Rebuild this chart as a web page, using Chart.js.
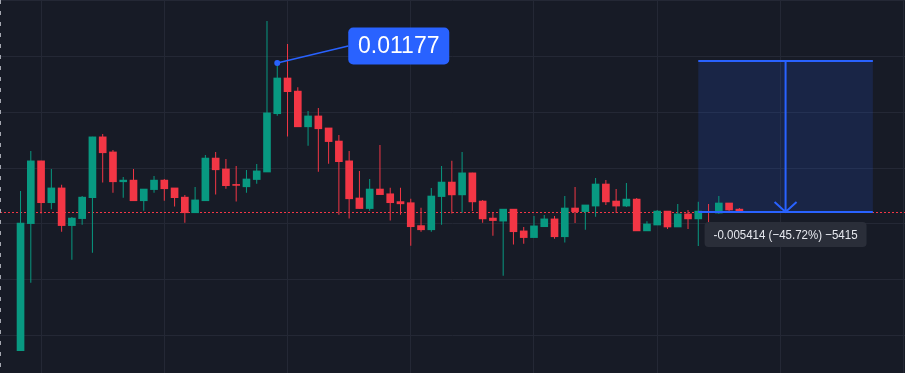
<!DOCTYPE html>
<html>
<head>
<meta charset="utf-8">
<script src="https://cdn.jsdelivr.net/npm/chart.js@4.4.1/dist/chart.umd.min.js"></script>
<style>
    html, body { margin: 0; padding: 0; background: #171b26; overflow: hidden; }
    #wrap { position: relative; width: 905px; height: 373px; }
</style>
</head>
<body>
<div id="wrap"><canvas id="candles"></canvas></div>
<script>
/* ---------- Donnees OHLC ---------- */
const OPEN = [
    0.00146, 0.00601, 0.00826, 0.00676, 0.00729, 0.00594, 0.00619, 0.00694, 0.00912, 0.00858,
    0.00751, 0.00757, 0.00683, 0.00723, 0.00757, 0.00729, 0.00696, 0.00640, 0.00683, 0.00836,
    0.00797, 0.00741, 0.00733, 0.00759, 0.00786, 0.00995, 0.01123, 0.01076, 0.00948, 0.00987,
    0.00944, 0.00897, 0.00826, 0.00693, 0.00655, 0.00725, 0.00708, 0.00680, 0.00676, 0.00594,
    0.00579, 0.00698, 0.00750, 0.00704, 0.00783, 0.00682, 0.00621, 0.00610, 0.00653, 0.00575,
    0.00551, 0.00590, 0.00618, 0.00554, 0.00657, 0.00644, 0.00664, 0.00743, 0.00682, 0.00664,
    0.00689, 0.00575, 0.00596, 0.00646, 0.00589, 0.00636, 0.00618, 0.00644, 0.00639, 0.00675,
    0.00653
];
const HIGH = [
    0.00718, 0.00861, 0.00826, 0.00797, 0.00740, 0.00625, 0.00700, 0.00912, 0.00922, 0.00865,
    0.00768, 0.00797, 0.00725, 0.00772, 0.00761, 0.00729, 0.00704, 0.00732, 0.00847, 0.00858,
    0.00833, 0.00808, 0.00793, 0.00815, 0.01327, 0.01177, 0.01245, 0.01090, 0.01005, 0.01015,
    0.00944, 0.00919, 0.00861, 0.00790, 0.00761, 0.00883, 0.00730, 0.00730, 0.00690, 0.00658,
    0.00729, 0.00808, 0.00826, 0.00858, 0.00783, 0.00686, 0.00643, 0.00653, 0.00653, 0.00589,
    0.00628, 0.00632, 0.00628, 0.00700, 0.00732, 0.00668, 0.00765, 0.00757, 0.00725, 0.00747,
    0.00693, 0.00610, 0.00650, 0.00646, 0.00671, 0.00650, 0.00679, 0.00671, 0.00700, 0.00675,
    0.00657
];
const LOW = [
    0.00146, 0.00389, 0.00637, 0.00653, 0.00572, 0.00472, 0.00597, 0.00497, 0.00748, 0.00712,
    0.00694, 0.00683, 0.00647, 0.00712, 0.00683, 0.00662, 0.00604, 0.00640, 0.00683, 0.00705,
    0.00726, 0.00680, 0.00712, 0.00744, 0.00786, 0.00988, 0.00913, 0.00948, 0.00880, 0.00787,
    0.00816, 0.00633, 0.00619, 0.00655, 0.00647, 0.00705, 0.00612, 0.00633, 0.00522, 0.00572,
    0.00572, 0.00597, 0.00637, 0.00640, 0.00646, 0.00604, 0.00558, 0.00414, 0.00526, 0.00529,
    0.00551, 0.00590, 0.00547, 0.00533, 0.00603, 0.00579, 0.00626, 0.00668, 0.00639, 0.00661,
    0.00575, 0.00575, 0.00596, 0.00582, 0.00589, 0.00582, 0.00521, 0.00607, 0.00636, 0.00646,
    0.00642
];
const CLOSE = [
    0.00603, 0.00826, 0.00676, 0.00729, 0.00594, 0.00621, 0.00696, 0.00912, 0.00855, 0.00751,
    0.00757, 0.00683, 0.00725, 0.00757, 0.00726, 0.00694, 0.00640, 0.00686, 0.00836, 0.00794,
    0.00737, 0.00738, 0.00761, 0.00790, 0.00998, 0.01123, 0.01074, 0.00948, 0.00987, 0.00941,
    0.00895, 0.00823, 0.00690, 0.00655, 0.00725, 0.00705, 0.00676, 0.00672, 0.00590, 0.00579,
    0.00700, 0.00750, 0.00704, 0.00783, 0.00679, 0.00618, 0.00612, 0.00653, 0.00572, 0.00551,
    0.00593, 0.00618, 0.00554, 0.00657, 0.00644, 0.00668, 0.00743, 0.00679, 0.00664, 0.00689,
    0.00575, 0.00600, 0.00646, 0.00589, 0.00636, 0.00618, 0.00646, 0.00641, 0.00675, 0.00650,
    0.00642
];

// Grille : un trait tous les 0.002 en prix, tous les 12 bougies en temps
const Y_TICKS = [0.002, 0.004, 0.006, 0.008, 0.010, 0.012, 0.014];
const X_TICKS = [2, 14, 26, 38, 50, 62, 74, 86];

// Etiquette posee sur le plus haut de la bougie 25
const CALLOUT_INDEX = 25;
const CALLOUT_TEXT = "0.01177";

// Outil de mesure (bougies 66 -> 83, de 0.011842 a 0.006428)
const MEASURE_FROM = 66;
const MEASURE_TO = 83;
const MEASURE_HIGH = 0.011842;
const MEASURE_LOW = 0.006428;
const MEASURE_TEXT = "-0.005414 (\u221245.72%) \u22125415";

(function () {
    "use strict";

    const BG = "#171b26";
    const GRID = "#242835";
    const UP = "#089981";
    const DOWN = "#f23645";
    const BLUE = "#2962ff";

    const colors = OPEN.map(function (o, i) { return CLOSE[i] >= o ? UP : DOWN; });
    const bodies = OPEN.map(function (o, i) { return { x: i, y: [o, CLOSE[i]] }; });
    const wicks = LOW.map(function (l, i) { return { x: i, y: [l, HIGH[i]] }; });
    const lastClose = CLOSE[CLOSE.length - 1];

    function roundRect(ctx, x, y, w, h, r) {
        ctx.beginPath();
        ctx.moveTo(x + r, y);
        ctx.arcTo(x + w, y, x + w, y + h, r);
        ctx.arcTo(x + w, y + h, x, y + h, r);
        ctx.arcTo(x, y + h, x, y, r);
        ctx.arcTo(x, y, x + w, y, r);
        ctx.closePath();
    }

    const overlay = {
        id: "overlay",
        beforeDraw: function (chart) {
            const ctx = chart.ctx;
            ctx.save();
            ctx.fillStyle = BG;
            ctx.fillRect(0, 0, chart.width, chart.height);
            ctx.restore();
        },
        beforeDatasetsDraw: function (chart) {
            const ctx = chart.ctx;
            const xs = chart.scales.x, ys = chart.scales.y;
            const x1 = xs.getPixelForValue(MEASURE_FROM), x2 = xs.getPixelForValue(MEASURE_TO);
            const y1 = ys.getPixelForValue(MEASURE_HIGH), y2 = ys.getPixelForValue(MEASURE_LOW);
            ctx.save();
            ctx.fillStyle = "rgba(41,98,255,0.15)";
            ctx.fillRect(x1, y1, x2 - x1, y2 - y1);

            // ligne du dernier prix (pointillés rouges)
            const py = Math.round(ys.getPixelForValue(lastClose)) + 0.5;
            ctx.strokeStyle = DOWN;
            ctx.lineWidth = 1;
            ctx.setLineDash([2, 2]);
            ctx.beginPath();
            ctx.moveTo(0, py);
            ctx.lineTo(chart.width, py);
            ctx.stroke();
            ctx.restore();
        },
        afterDatasetsDraw: function (chart) {
            const ctx = chart.ctx;
            const xs = chart.scales.x, ys = chart.scales.y;
            ctx.save();

            // curseur vertical en tirets a gauche
            ctx.strokeStyle = "#a3a6af";
            ctx.lineWidth = 1;
            ctx.setLineDash([4, 7]);
            ctx.beginPath();
            ctx.moveTo(0.5, 0);
            ctx.lineTo(0.5, chart.height);
            ctx.stroke();
            ctx.setLineDash([]);

            /* ---------- outil de mesure ---------- */
            const x1 = xs.getPixelForValue(MEASURE_FROM), x2 = xs.getPixelForValue(MEASURE_TO);
            const y1 = ys.getPixelForValue(MEASURE_HIGH), y2 = ys.getPixelForValue(MEASURE_LOW);
            const xm = xs.getPixelForValue((MEASURE_FROM + MEASURE_TO) / 2);
            ctx.strokeStyle = BLUE;
            ctx.lineWidth = 2;
            ctx.beginPath();
            ctx.moveTo(x1, y1); ctx.lineTo(x2, y1);
            ctx.moveTo(x1, y2); ctx.lineTo(x2, y2);
            ctx.moveTo(xm, y1); ctx.lineTo(xm, y2);
            ctx.moveTo(xm - 11, y2 - 10); ctx.lineTo(xm, y2); ctx.lineTo(xm + 11, y2 - 10);
            ctx.stroke();

            const tw = 162, th = 25;
            roundRect(ctx, xm - tw / 2, y2 + 10, tw, th, 4);
            ctx.fillStyle = "#2a2e39";
            ctx.fill();
            ctx.fillStyle = "#e6e8ee";
            ctx.font = "13px 'Liberation Sans', Arial, sans-serif";
            ctx.textAlign = "center";
            ctx.textBaseline = "middle";
            ctx.fillText(MEASURE_TEXT, xm, y2 + 10 + th / 2 + 0.5, 144);

            /* ---------- etiquette de prix ---------- */
            const ax = xs.getPixelForValue(CALLOUT_INDEX);
            const ay = ys.getPixelForValue(HIGH[CALLOUT_INDEX]);
            const bx = ax + 71, by = ay - 17;
            ctx.strokeStyle = BLUE;
            ctx.lineWidth = 1.5;
            ctx.beginPath();
            ctx.moveTo(ax, ay);
            ctx.lineTo(bx, by);
            ctx.stroke();
            ctx.fillStyle = BLUE;
            ctx.beginPath();
            ctx.arc(ax, ay, 3, 0, Math.PI * 2);
            ctx.fill();
            roundRect(ctx, bx, by - 18.5, 101, 37, 5);
            ctx.fill();
            ctx.fillStyle = "#ffffff";
            ctx.font = "23px 'Liberation Sans', Arial, sans-serif";
            ctx.fillText(CALLOUT_TEXT, bx + 50.5, by + 1);
            ctx.restore();
        }
    };

    new Chart(document.getElementById("candles").getContext("2d"), {
        type: "bar",
        data: {
            datasets: [{
                label: "corps",
                data: bodies,
                backgroundColor: colors,
                borderWidth: 0,
                barThickness: 7,
                minBarLength: 1,
                grouped: false
            }, {
                label: "meches",
                data: wicks,
                backgroundColor: colors,
                borderWidth: 0,
                barThickness: 1,
                inflateAmount: 0,
                grouped: false
            }]
        },
        options: {
            responsive: true,
            maintainAspectRatio: false,
            animation: false,
            layout: { padding: 0 },
            plugins: { legend: { display: false }, tooltip: { enabled: false } },
            scales: {
                x: {
                    type: "linear",
                    min: -2,
                    max: 86.13,
                    offset: false,
                    afterBuildTicks: function (s) { s.ticks = X_TICKS.map(function (v) { return { value: v }; }); },
                    ticks: { display: false },
                    grid: { color: GRID, drawTicks: false, offset: false },
                    border: { display: false }
                },
                y: {
                    type: "linear",
                    min: 0.000657,
                    max: 0.014025,
                    afterBuildTicks: function (s) { s.ticks = Y_TICKS.map(function (v) { return { value: v }; }); },
                    ticks: { display: false },
                    grid: { color: GRID, drawTicks: false },
                    border: { display: false }
                }
            }
        },
        plugins: [overlay]
    });
})();
</script>
</body>
</html>
